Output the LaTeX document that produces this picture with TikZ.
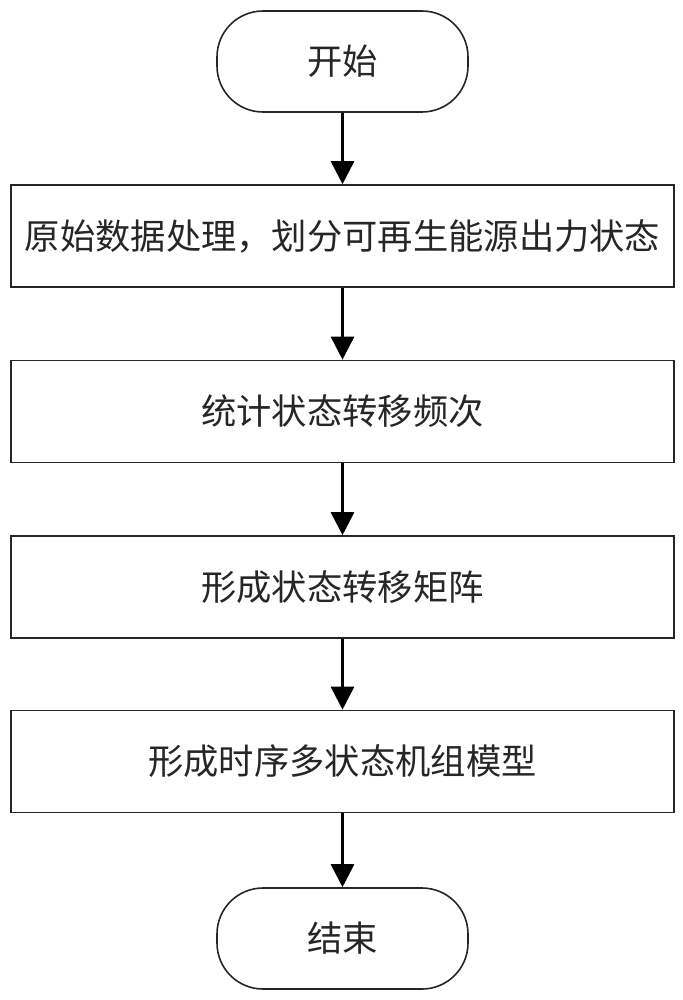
\documentclass[tikz,border=0pt]{standalone}
\usepackage{fontspec}
\setmainfont{Noto Sans CJK SC}
\usetikzlibrary{arrows.meta}
\tikzset{
  procbox/.style={draw=black!85, line width=1.6pt, minimum width=663pt, minimum height=102pt, inner sep=0pt, font=\fontsize{35.3}{40}\selectfont, text=black!85},
  termbox/.style={draw=black!85, line width=1.6pt, rounded corners=46pt, minimum width=251pt, minimum height=101pt, inner sep=0pt, font=\fontsize{35.3}{40}\selectfont, text=black!85},
  flow/.style={line width=2.8pt, -{Triangle[length=23pt,width=23pt]}}
}
\begin{document}
\begin{tikzpicture}[x=1pt,y=-1pt]
\useasboundingbox (0,0) rectangle (682,1000);
\node[termbox] (start) at (342.5,61.5) {开始};
\node[procbox] (b1) at (342.5,236) {原始数据处理，划分可再生能源出力状态};
\node[procbox] (b2) at (342.5,411.5) {统计状态转移频次};
\node[procbox] (b3) at (342.5,587) {形成状态转移矩阵};
\node[procbox] (b4) at (342.5,761.5) {形成时序多状态机组模型};
\node[termbox] (end) at (342.5,938.5) {结束};
\draw[flow] (start) -- (b1);
\draw[flow] (b1) -- (b2);
\draw[flow] (b2) -- (b3);
\draw[flow] (b3) -- (b4);
\draw[flow] (b4) -- (end);
\end{tikzpicture}
\end{document}
